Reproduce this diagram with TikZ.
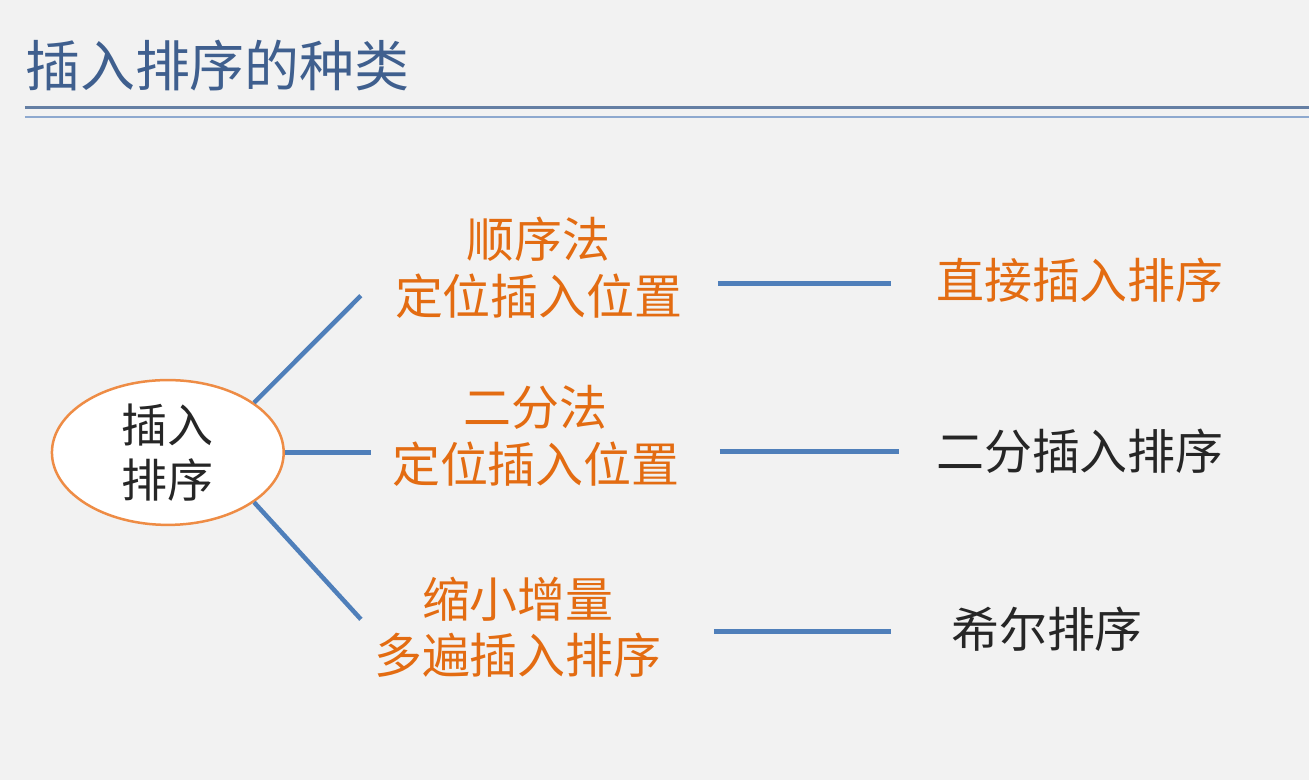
\documentclass[tikz,border=0pt]{standalone}
\usepackage{fontspec}
\setmainfont{Noto Sans CJK SC}
\usetikzlibrary{shapes.geometric}

\definecolor{slidebg}{HTML}{F2F2F2}
\definecolor{titleblue}{HTML}{3F5F8E}
\definecolor{rulelight}{HTML}{8EA9CF}
\definecolor{linkblue}{HTML}{4F7FBA}
\definecolor{sortorange}{HTML}{E36C12}
\definecolor{ringorange}{HTML}{EE8C45}
\definecolor{plaintext}{HTML}{262626}

\begin{document}
\begin{tikzpicture}[x=1pt,y=-1pt,
    link/.style={draw=linkblue,line width=4.5pt},
    way/.style={inner sep=0pt,align=center,text=sortorange,font=\fontsize{48}{57}\selectfont},
    kind/.style={inner sep=0pt,anchor=west,font=\fontsize{48}{57}\selectfont}]
  % slide background and heading
  \fill[slidebg] (0,0) rectangle (1310,781);
  \node[anchor=west,inner sep=0pt,text=titleblue,font=\fontsize{55}{60}\selectfont] (title) at (25,66) {插入排序的种类};
  \draw[titleblue!80!white,line width=3pt] (25,108) -- (1310,108);
  \draw[rulelight,line width=1.5pt] (25,117) -- (1310,117);

  % root
  \node[ellipse,draw=ringorange,line width=2.5pt,fill=white,minimum width=232pt,minimum height=145pt,
        align=center,inner sep=0pt,text=plaintext,font=\fontsize{46}{55}\selectfont] (root) at (168,453) {插入\\排序};

  % ways to locate the insert position
  \node[way] (seq) at (539.5,268) {顺序法\\定位插入位置};
  \node[way] (two) at (536.5,436) {二分法\\定位插入位置};
  \node[way] (three) at (518.5,628) {缩小增量\\多遍插入排序};

  % the sorts
  \node[kind,text=sortorange] (direct) at (937,281) {直接插入排序};
  \node[kind,text=plaintext] (binary) at (937,452) {二分插入排序};
  \node[kind,text=plaintext] (shell) at (952,630) {希尔排序};

  \draw[link] (root.30) -- ([xshift=-34pt,yshift=-28pt]seq.west);
  \draw[link] (root.east) -- ([xshift=-21pt]root.east -| two.west);
  \draw[link] (root.-30) -- ([xshift=-13pt,yshift=8pt]three.west);

  \draw[link] ([xshift=35pt,yshift=-3pt]seq.east |- direct.west) -- ([xshift=-45pt,yshift=-3pt]direct.west);
  \draw[link] ([xshift=40pt]two.east |- binary.west) -- ([xshift=-37pt]binary.west);
  \draw[link] ([xshift=52pt,yshift=-2pt]three.east |- shell.west) -- ([xshift=-60pt,yshift=-2pt]shell.west);
\end{tikzpicture}
\end{document}
